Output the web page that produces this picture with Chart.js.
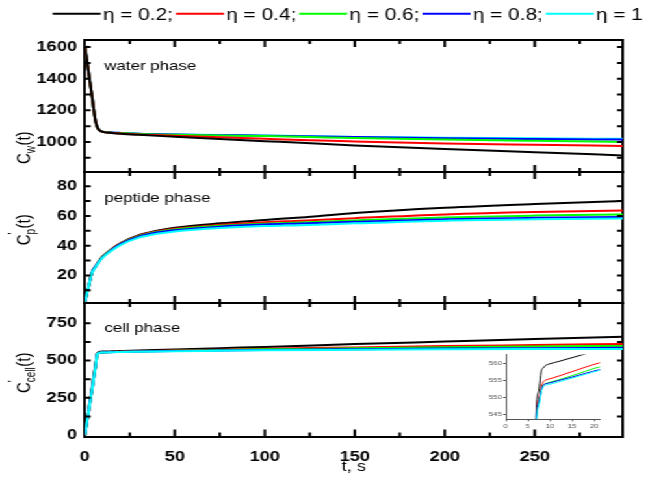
<!DOCTYPE html>
<html>
<head>
<meta charset="utf-8">
<script src="https://cdn.jsdelivr.net/npm/chart.js@4.4.1/dist/chart.umd.min.js"></script>
<style>
  html, body { margin: 0; padding: 0; background: #fff; overflow: hidden; }
  /* the original figure is horizontally stretched, so draw narrow and stretch */
  #wrap { position: absolute; left: 0; top: 0; width: 510px; height: 479px;
          transform: scaleX(1.3); transform-origin: 0 0; }
  #wrap canvas { position: absolute; left: 0; }
</style>
</head>
<body>
<div id="wrap">
  <canvas id="cWater" width="510" height="192" style="top:0px"></canvas>
  <canvas id="cPep" width="510" height="171" style="top:152px"></canvas>
  <canvas id="cCell" width="510" height="196" style="top:283px"></canvas>
  <canvas id="cInset" width="99" height="80" style="left:367px;top:350px"></canvas>
</div>
<script>
// ---- data ----
const etaLabels = ['η = 0.2;', 'η = 0.4;', 'η = 0.6;', 'η = 0.8;', 'η = 1'];
const lineColors = ['#000000', '#ff0000', '#00ff00', '#0000ff', '#00ffff'];

const timeTicks = [0, 50, 100, 150, 200, 250];

// water phase
const tWater = [0, 1, 2, 3, 4, 5, 6, 7, 8, 10, 15, 20, 30, 50, 75, 100, 120, 150, 200, 250, 299];
const water02 = [1610, 1530, 1450, 1370, 1290, 1205, 1130, 1092, 1075, 1064, 1057, 1052, 1045, 1033, 1018, 1005, 995, 978, 955, 935, 915];
const water04 = [1610, 1530, 1450, 1370, 1290, 1205, 1130, 1092, 1075, 1064, 1058, 1054, 1048, 1040, 1030, 1020, 1012, 1003, 990, 982, 975];
const water06 = [1610, 1530, 1450, 1370, 1290, 1205, 1130, 1092, 1075, 1065, 1059, 1056, 1051, 1045, 1041, 1037, 1033, 1025, 1015, 1007, 1000];
const water08 = [1610, 1530, 1450, 1370, 1290, 1205, 1130, 1092, 1075, 1065, 1060, 1057, 1052, 1047, 1043, 1040, 1036, 1031, 1024, 1019, 1015];
const water10 = [1610, 1530, 1450, 1370, 1290, 1205, 1130, 1092, 1075, 1065, 1060, 1057, 1052, 1048, 1044, 1041, 1037, 1032, 1027, 1023, 1020];
const waterTicks = [1000, 1200, 1400, 1600];

// peptide phase
const tPep = [0, 1, 2, 3, 4, 6, 8, 10, 15, 20, 30, 40, 50, 75, 100, 120, 150, 200, 250, 299];
const pep02 = [2, 7, 12, 17, 22, 26, 29.8, 32.8, 37.8, 41.8, 47, 50, 52, 55, 57.3, 59, 62, 65.5, 68, 70];
const pep04 = [2, 7, 12, 17, 22, 26, 29.8, 32.8, 37.8, 41.7, 46.8, 49.6, 51.4, 54, 55.8, 56.8, 58.5, 61, 62.6, 63.6];
const pep06 = [2, 7, 12, 17, 22, 26, 29.7, 32.6, 37.5, 41.4, 46.4, 49.2, 50.9, 53.4, 54.8, 55.6, 57, 59, 60.2, 61];
const pep08 = [2, 7, 12, 17, 22, 26, 29.6, 32.4, 37.3, 41.2, 46, 48.8, 50.4, 52.8, 54.2, 54.9, 56, 57.8, 58.7, 59.2];
const pep10 = [2, 7, 12, 17, 21.6, 25.6, 29.2, 32, 36.8, 40.6, 45.4, 48, 49.6, 51.9, 53.2, 53.8, 55, 56.8, 57.7, 58.3];
const pepTicks = [20, 40, 60, 80];

// cell phase
const tCell = [0, 2, 4, 6, 6.9, 7.5, 8, 8.5, 9, 10, 12, 15, 18, 21, 30, 50, 75, 100, 150, 200, 250, 299];
const cell02 = [0, 155, 315, 475, 546, 552, 557.5, 558.6, 559.3, 559.8, 560.5, 561.6, 562.7, 563.8, 567, 574, 583, 591, 610, 627, 644, 660];
const cell04 = [0, 150, 305, 465, 544, 549.5, 553, 554.5, 555, 555.4, 556.2, 557.5, 558.8, 560, 562.5, 567.5, 573, 579, 588, 597, 604, 611];
const cell06 = [0, 150, 305, 463, 543, 548.5, 552, 553.6, 554, 554.4, 555.1, 556.3, 557.6, 558.8, 561, 565, 570, 575, 582, 589, 594, 598];
const cell08 = [0, 150, 305, 463, 543, 548.5, 552, 553.5, 553.9, 554.2, 554.9, 555.9, 557, 558, 560, 563.5, 567, 571, 576, 580, 583, 585];
const cell10 = [0, 148, 300, 460, 541, 547.5, 551.5, 553, 553.5, 553.8, 554.5, 555.6, 556.7, 557.8, 559.5, 562.5, 565.5, 568.5, 572, 575, 577, 578];
const cellTicks = [0, 250, 500, 750];

// inset (zoom on the cell phase knee)
const insetTimeTicks = [0, 5, 10, 15, 20];
const insetTicks = [545, 550, 555, 560];

// ---- helpers ----
const SANS = '"Liberation Sans", Arial, sans-serif';

function toPoints(ts, vals) {
  return ts.map((t, i) => ({ x: t, y: vals[i] }));
}

function makeDatasets(ts, table, width, order) {
  return table.map((vals, k) => ({
    label: etaLabels[k],
    data: toPoints(ts, vals),
    borderColor: lineColors[k],
    backgroundColor: lineColors[k],
    borderWidth: width,
    pointRadius: 0,
    cubicInterpolationMode: 'monotone',
    order: order ? order[k] : 0
  }));
}

// midpoints between major ticks, plus one step beyond each end
function minorTicks(vals) {
  const step = vals[1] - vals[0];
  const out = [vals[0] - step / 2];
  vals.forEach(v => out.push(v + step / 2));
  return out;
}

function setTicks(vals) {
  return scale => { scale.ticks = vals.map(v => ({ value: v })); };
}

function drawYTitle(ctx, cx, cy, sub, prime) {
  ctx.save();
  ctx.translate(cx, cy);
  ctx.rotate(-Math.PI / 2);
  ctx.fillStyle = '#000';
  ctx.textAlign = 'left';
  ctx.textBaseline = 'alphabetic';
  const big = '15px ' + SANS, small = '10px ' + SANS;
  ctx.font = big;
  const wC = ctx.measureText('C').width, wT = ctx.measureText('(t)').width;
  ctx.font = small;
  const wS = ctx.measureText(sub).width;
  let x = -(wC + wS + wT) / 2;
  const base = 5;
  ctx.font = big;
  ctx.fillText('C', x, base);
  x += wC;
  ctx.font = small;
  if (prime) ctx.fillText('\'', x, base - 9);
  ctx.fillText(sub, x, base + 4);
  x += wS + 0.5;
  ctx.font = big;
  ctx.fillText('(t)', x, base);
  ctx.restore();
}

// inward tick marks on all four sides, panel label, y title, legend
const panelDecor = {
  id: 'panelDecor',
  afterDraw(chart, args, o) {
    const { ctx, chartArea: a } = chart;
    const xs = chart.scales.x, ys = chart.scales.y;
    const eps = 3 * (ys.max - ys.min) / (a.bottom - a.top);

    ctx.save();
    ctx.strokeStyle = '#000000';
    ctx.lineWidth = 2;
    ctx.beginPath();
    timeTicks.concat(minorTicks(timeTicks)).forEach(v => {
      if (v <= xs.min || v >= xs.max) return;
      const px = xs.getPixelForValue(v);
      const len = timeTicks.includes(v) ? 7 : 4;
      ctx.moveTo(px, a.bottom); ctx.lineTo(px, a.bottom - len);
      ctx.moveTo(px, a.top); ctx.lineTo(px, a.top + len);
    });
    o.yTicks.concat(minorTicks(o.yTicks)).forEach(v => {
      if (v <= ys.min + eps || v >= ys.max - eps) return;
      const py = ys.getPixelForValue(v);
      ctx.moveTo(a.left, py); ctx.lineTo(a.left + 4.5, py);
      ctx.moveTo(a.right, py); ctx.lineTo(a.right - 4.5, py);
    });
    ctx.stroke();
    ctx.restore();

    ctx.save();
    ctx.fillStyle = '#000';
    ctx.font = '13px ' + SANS;
    ctx.textAlign = 'left';
    ctx.textBaseline = 'alphabetic';
    ctx.fillText(o.label, a.left + 15, a.top + o.labelDy);
    ctx.restore();

    drawYTitle(ctx, 18, o.titleY, o.sub, o.prime);

    if (o.legend) {
      ctx.save();
      ctx.font = '16px ' + SANS;
      ctx.textAlign = 'left';
      ctx.textBaseline = 'alphabetic';
      let lx = 40.5;
      chart.data.datasets.forEach(ds => {
        ctx.strokeStyle = ds.borderColor;
        ctx.lineWidth = 2;
        ctx.beginPath();
        ctx.moveTo(lx, 13.7);
        ctx.lineTo(lx + 37, 13.7);
        ctx.stroke();
        ctx.fillStyle = '#000';
        ctx.fillText(ds.label, lx + 38.7, 19.5);
        lx += 38.7 + ctx.measureText(ds.label).width + 2.3;
      });
      ctx.restore();
    }
  }
};

const frameBorder = { display: true, color: '#000', width: 2 };

function tickFont() {
  return { family: SANS, size: 14, weight: 'bold' };
}

function panelOptions(cfg) {
  const x = {
    type: 'linear', min: 0, max: 299,
    afterBuildTicks: setTicks(timeTicks),
    grid: { display: false, drawTicks: false },
    border: frameBorder,
    ticks: { display: cfg.showX, font: tickFont(), color: '#000', padding: 12, maxRotation: 0, callback: v => String(v) },
    title: { display: cfg.showX, text: 't, s', color: '#000', font: { family: SANS, size: 14 }, padding: { top: 0, bottom: 3.6 } }
  };
  if (cfg.showX) x.afterFit = s => { s.height = 42.5; };
  return {
    responsive: false,
    animation: false,
    devicePixelRatio: 1,
    events: [],
    layout: { padding: cfg.padding },
    plugins: {
      legend: { display: false },
      tooltip: { enabled: false },
      panelDecor: cfg.decor
    },
    scales: {
      x: x,
      xTop: {
        type: 'linear', position: 'top', min: 0, max: 299,
        grid: { display: false, drawTicks: false },
        border: frameBorder,
        ticks: { display: false }
      },
      y: {
        type: 'linear', position: 'left', min: cfg.yMin, max: cfg.yMax,
        afterBuildTicks: setTicks(cfg.decor.yTicks),
        afterFit: s => { s.width = 40; },
        grid: { display: false, drawTicks: false },
        border: frameBorder,
        ticks: { font: tickFont(), color: '#000', padding: 6, callback: v => String(v) }
      },
      yRight: {
        type: 'linear', position: 'right', min: cfg.yMin, max: cfg.yMax,
        grid: { display: false, drawTicks: false },
        border: frameBorder,
        ticks: { display: false }
      }
    }
  };
}

const topOnCyan = [4, 3, 2, 1, 0];

new Chart(document.getElementById('cWater'), {
  type: 'line',
  data: { datasets: makeDatasets(tWater, [water02, water04, water06, water08, water10], 2) },
  options: panelOptions({
    padding: { left: 25.2, right: 30.8, top: 40, bottom: 20 },
    showX: false, yMin: 810, yMax: 1645,
    decor: { yTicks: waterTicks, label: 'water phase', labelDy: 30, sub: 'w', prime: false, titleY: 148, legend: true }
  }),
  plugins: [panelDecor]
});

new Chart(document.getElementById('cPep'), {
  type: 'line',
  data: { datasets: makeDatasets(tPep, [pep02, pep04, pep06, pep08, pep10], 2, topOnCyan) },
  options: panelOptions({
    padding: { left: 25.2, right: 30.8, top: 20, bottom: 20 },
    showX: false, yMin: 1.5, yMax: 89.5,
    decor: { yTicks: pepTicks, label: 'peptide phase', labelDy: 30, sub: 'p', prime: true, titleY: 78, legend: false }
  }),
  plugins: [panelDecor]
});

new Chart(document.getElementById('cCell'), {
  type: 'line',
  data: { datasets: makeDatasets(tCell, [cell02, cell04, cell06, cell08, cell10], 2, topOnCyan) },
  options: panelOptions({
    padding: { left: 25.2, right: 30.8, top: 20, bottom: 0 },
    showX: true, yMin: -10, yMax: 886,
    decor: { yTicks: cellTicks, label: 'cell phase', labelDy: 28.7, sub: 'cell', prime: true, titleY: 90, legend: false }
  }),
  plugins: [panelDecor]
});

// inset: same cell-phase series, zoomed on the knee
const insetAxisFont = { family: SANS, size: 6 };
new Chart(document.getElementById('cInset'), {
  type: 'line',
  data: { datasets: makeDatasets(tCell, [cell02, cell04, cell06, cell08, cell10], 1, topOnCyan) },
  options: {
    responsive: false,
    animation: false,
    devicePixelRatio: 1,
    events: [],
    layout: { padding: { left: 2, right: 4.5, top: 4, bottom: 0 } },
    plugins: { legend: { display: false }, tooltip: { enabled: false } },
    scales: {
      x: {
        type: 'linear', min: 0, max: 21.3,
        afterBuildTicks: setTicks(insetTimeTicks),
        afterFit: s => { s.height = 10.7; },
        grid: { display: true, drawOnChartArea: false, tickLength: 2, color: '#555' },
        border: { display: true, color: '#555', width: 1 },
        ticks: { font: insetAxisFont, color: '#555', padding: 1, maxRotation: 0 }
      },
      y: {
        type: 'linear', min: 543.5, max: 562.5,
        afterBuildTicks: setTicks(insetTicks),
        afterFit: s => { s.width = 20; },
        grid: { display: true, drawOnChartArea: false, tickLength: 2, color: '#555' },
        border: { display: true, color: '#555', width: 1 },
        ticks: { font: insetAxisFont, color: '#555', padding: 1, callback: v => String(v) }
      }
    }
  }
});
</script>
</body>
</html>
